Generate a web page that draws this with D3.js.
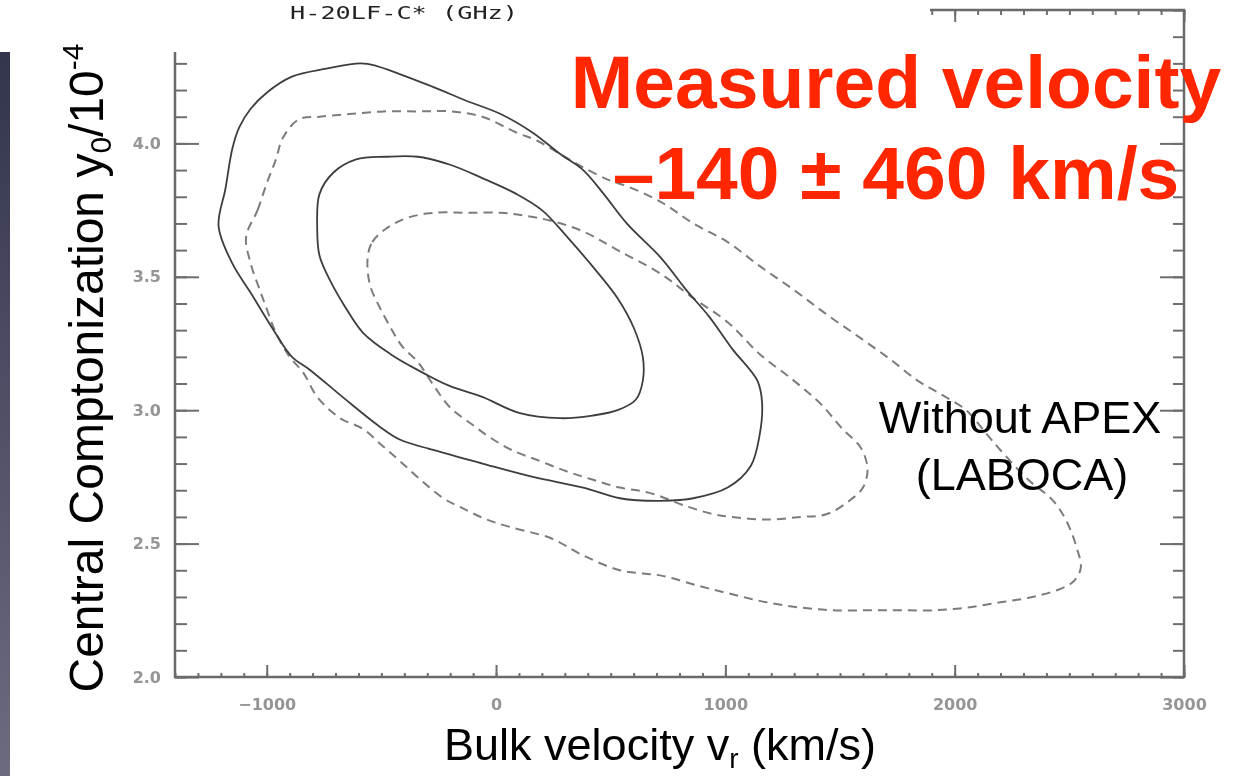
<!DOCTYPE html>
<html>
<head>
<meta charset="utf-8">
<title>Bulk velocity vs central Comptonization</title>
<script src="https://cdnjs.cloudflare.com/ajax/libs/d3/7.8.5/d3.min.js"></script>
<style>
body { margin: 0; background: #fff; }
.axis path.domain { display: none; }
.axis line { stroke: #6e6e6e; stroke-width: 2; }
.axis text { fill: #959595; font-family: "DejaVu Sans", sans-serif; font-size: 16px; font-weight: bold; }
.frame { fill: none; stroke: #6a6a6a; stroke-width: 2.5; }
.solid { fill: none; stroke: #3e3e3e; stroke-width: 1.8; }
.dashed { fill: none; stroke: #7c7c7c; stroke-width: 2; stroke-dasharray: 9,6; }
.title { font-family: "Liberation Sans", Arial, sans-serif; fill: #000; }
.red { font-family: "Liberation Sans", Arial, sans-serif; font-weight: bold; fill: #ff2600; }
</style>
</head>
<body>
<svg id="chart" width="1244" height="776"></svg>
<script>
// axes
var xDomain = [-1400, 3000];
var yDomain = [2.0, 4.5];
var xTickValues = [-1000, 0, 1000, 2000, 3000];
var xTickLabels = ["\u22121000", "0", "1000", "2000", "3000"];
var yTickValues = [2.0, 2.5, 3.0, 3.5, 4.0, 4.5];
var yTickLabels = ["2.0", "2.5", "3.0", "3.5", "4.0", ""];

// contours: bulk velocity (km/s) and y0/1e-4
var solidOuterV = [-1210,-1180,-1150,-1120,-1070,-1000,-890,-740,-590,-520,-420,-270,-130,20,160,280,380,470,570,720,830,930,1030,1140,1160,1150,1110,1010,860,710,540,380,160,-60,-270,-420,-510,-670,-810,-890,-970,-1070,-1150];
var solidOuterY = [3.69,3.83,3.98,4.06,4.13,4.19,4.25,4.28,4.30,4.29,4.26,4.21,4.16,4.11,4.04,3.96,3.90,3.81,3.70,3.57,3.45,3.35,3.23,3.11,3.03,2.91,2.79,2.71,2.67,2.66,2.67,2.71,2.75,2.80,2.85,2.89,2.94,3.05,3.15,3.20,3.30,3.44,3.55];

var solidInnerV = [-780,-770,-710,-610,-480,-340,-200,-60,90,200,310,420,530,600,640,640,610,530,420,280,100,-60,-200,-340,-460,-580,-660,-720,-770];
var solidInnerY = [3.69,3.81,3.89,3.94,3.95,3.95,3.92,3.87,3.81,3.75,3.65,3.54,3.42,3.31,3.20,3.11,3.04,3.00,2.98,2.97,2.99,3.05,3.09,3.15,3.21,3.29,3.39,3.48,3.58];

var dashOuterV = [-1090,-1040,-1000,-960,-930,-860,-770,-640,-490,-340,-200,-60,90,180,280,380,500,570,720,860,1010,1150,1300,1440,1590,1720,1840,1940,2050,2140,2200,2320,2430,2490,2530,2550,2520,2460,2340,2200,2050,1910,1760,1620,1470,1330,1180,1030,890,720,540,370,240,70,-40,-140,-230,-330,-420,-500,-580,-680,-780,-840,-900,-960,-1000,-1030,-1070];
var dashOuterY = [3.65,3.75,3.85,3.94,4.02,4.09,4.10,4.11,4.12,4.12,4.12,4.10,4.04,4.01,3.96,3.91,3.86,3.84,3.78,3.70,3.63,3.54,3.45,3.36,3.27,3.19,3.11,3.06,3.00,2.91,2.85,2.74,2.66,2.58,2.49,2.41,2.36,2.33,2.30,2.28,2.26,2.25,2.25,2.25,2.25,2.26,2.28,2.31,2.34,2.38,2.40,2.46,2.52,2.56,2.59,2.63,2.67,2.74,2.81,2.87,2.93,2.97,3.05,3.14,3.20,3.29,3.38,3.45,3.55];

var dashInnerV = [-560,-540,-480,-390,-270,-130,20,120,240,380,530,720,860,1010,1150,1300,1420,1510,1590,1620,1600,1540,1440,1330,1180,1030,950,830,670,540,420,310,190,70,-30,-110,-200,-270,-340,-410,-460,-510,-550];
var dashInnerY = [3.57,3.63,3.68,3.72,3.74,3.74,3.74,3.73,3.71,3.67,3.60,3.51,3.42,3.33,3.21,3.11,3.02,2.93,2.86,2.78,2.71,2.66,2.61,2.60,2.59,2.60,2.61,2.64,2.69,2.71,2.74,2.77,2.81,2.85,2.90,2.95,3.01,3.09,3.18,3.24,3.31,3.39,3.47];

var svg = d3.select("#chart");
var x = d3.scaleLinear().domain(xDomain).range([175, 1184]);
var y = d3.scaleLinear().domain(yDomain).range([677, 10]);

var defs = svg.append("defs");
var grad = defs.append("linearGradient").attr("id", "side")
  .attr("x1", 0).attr("y1", 0).attr("x2", 0).attr("y2", 1);
grad.append("stop").attr("offset", "0%").attr("stop-color", "#33344e");
grad.append("stop").attr("offset", "100%").attr("stop-color", "#6d6b80");
defs.append("filter").attr("id", "soft")
  .attr("x", -0.05).attr("y", -0.05).attr("width", 1.1).attr("height", 1.1)
  .append("feGaussianBlur").attr("stdDeviation", 0.55);

// dark strip of the slide
svg.append("rect").attr("x", 0).attr("y", 52).attr("width", 10).attr("height", 724)
  .attr("fill", "url(#side)");

var plot = svg.append("g").attr("filter", "url(#soft)");

var minorX = d3.range(-1400, 3001, 100);
var minorY = d3.range(20, 46, 1).map(function(d) { return d / 10; });

function fmt(values, labels) {
  return function(d) { return labels[values.indexOf(d)]; };
}

plot.append("g").attr("class", "axis").attr("transform", "translate(0,677)")
  .call(d3.axisBottom(x).tickValues(minorX).tickSize(-4).tickFormat(""));
plot.append("g").attr("class", "axis").attr("transform", "translate(0,677)")
  .call(d3.axisBottom(x).tickValues(xTickValues).tickSize(-12).tickPadding(22)
    .tickFormat(fmt(xTickValues, xTickLabels)));
plot.append("g").attr("class", "axis").attr("transform", "translate(0,10)")
  .call(d3.axisTop(x).tickValues(minorX).tickSize(-5).tickFormat(""));
plot.append("g").attr("class", "axis").attr("transform", "translate(0,10)")
  .call(d3.axisTop(x).tickValues(xTickValues).tickSize(-12).tickFormat(""));

plot.append("g").attr("class", "axis").attr("transform", "translate(175,0)")
  .call(d3.axisLeft(y).tickValues(minorY).tickSize(-12).tickFormat(""));
plot.append("g").attr("class", "axis").attr("transform", "translate(175,0)")
  .call(d3.axisLeft(y).tickValues(yTickValues).tickSize(-24).tickPadding(14)
    .tickFormat(fmt(yTickValues, yTickLabels)));
plot.append("g").attr("class", "axis").attr("transform", "translate(1184,0)")
  .call(d3.axisRight(y).tickValues(minorY).tickSize(-11).tickFormat(""));
plot.append("g").attr("class", "axis").attr("transform", "translate(1184,0)")
  .call(d3.axisRight(y).tickValues(yTickValues).tickSize(-24).tickFormat(""));

plot.append("rect").attr("class", "frame")
  .attr("x", x(xDomain[0])).attr("y", y(yDomain[1]))
  .attr("width", x(xDomain[1]) - x(xDomain[0]))
  .attr("height", y(yDomain[0]) - y(yDomain[1]));

var line = d3.line()
  .x(function(d) { return x(d[0]); })
  .y(function(d) { return y(d[1]); })
  .curve(d3.curveCatmullRomClosed.alpha(0.5));

function pairs(v, w) { return v.map(function(d, i) { return [d, w[i]]; }); }

plot.append("path").attr("class", "dashed").attr("d", line(pairs(dashOuterV, dashOuterY)));
plot.append("path").attr("class", "dashed").attr("d", line(pairs(dashInnerV, dashInnerY)));
plot.append("path").attr("class", "solid").attr("d", line(pairs(solidOuterV, solidOuterY)));
plot.append("path").attr("class", "solid").attr("d", line(pairs(solidInnerV, solidInnerY)));

// white box hiding the top of the figure
svg.append("rect").attr("x", 0).attr("y", 0).attr("width", 930).attr("height", 52).attr("fill", "#fff");

svg.append("text")
  .attr("x", 290).attr("y", 19)
  .attr("textLength", 228).attr("lengthAdjust", "spacingAndGlyphs")
  .style("font-family", "DejaVu Sans Mono, monospace").style("font-size", "17px").style("fill", "#222")
  .text("H-20LF-C* (GHz)");

// axis titles
var xt = svg.append("text").attr("class", "title")
  .attr("x", 660).attr("y", 760).attr("text-anchor", "middle").style("font-size", "45px");
xt.append("tspan").text("Bulk velocity v");
xt.append("tspan").attr("dy", 8).style("font-size", "28px").text("r");
xt.append("tspan").attr("dy", -8).text(" (km/s)");

var yt = svg.append("text").attr("class", "title")
  .attr("transform", "translate(103,368) rotate(-90)")
  .attr("text-anchor", "middle").style("font-size", "48px");
yt.append("tspan").text("Central Comptonization y");
yt.append("tspan").attr("dy", 8).style("font-size", "30px").text("0");
yt.append("tspan").attr("dy", -8).text("/10");
yt.append("tspan").attr("dy", -20).style("font-size", "30px").text("-4");

svg.append("text").attr("class", "title")
  .attr("x", 1020).attr("y", 433).attr("text-anchor", "middle").style("font-size", "45px")
  .text("Without APEX");
svg.append("text").attr("class", "title")
  .attr("x", 1022).attr("y", 490).attr("text-anchor", "middle").style("font-size", "45px")
  .text("(LABOCA)");

svg.append("text").attr("class", "red")
  .attr("x", 896).attr("y", 108).attr("text-anchor", "middle").style("font-size", "75px")
  .text("Measured velocity");
svg.append("text").attr("class", "red")
  .attr("x", 896).attr("y", 199).attr("text-anchor", "middle").style("font-size", "75px")
  .text("\u2013140 \u00b1 460 km/s");
</script>
</body>
</html>
